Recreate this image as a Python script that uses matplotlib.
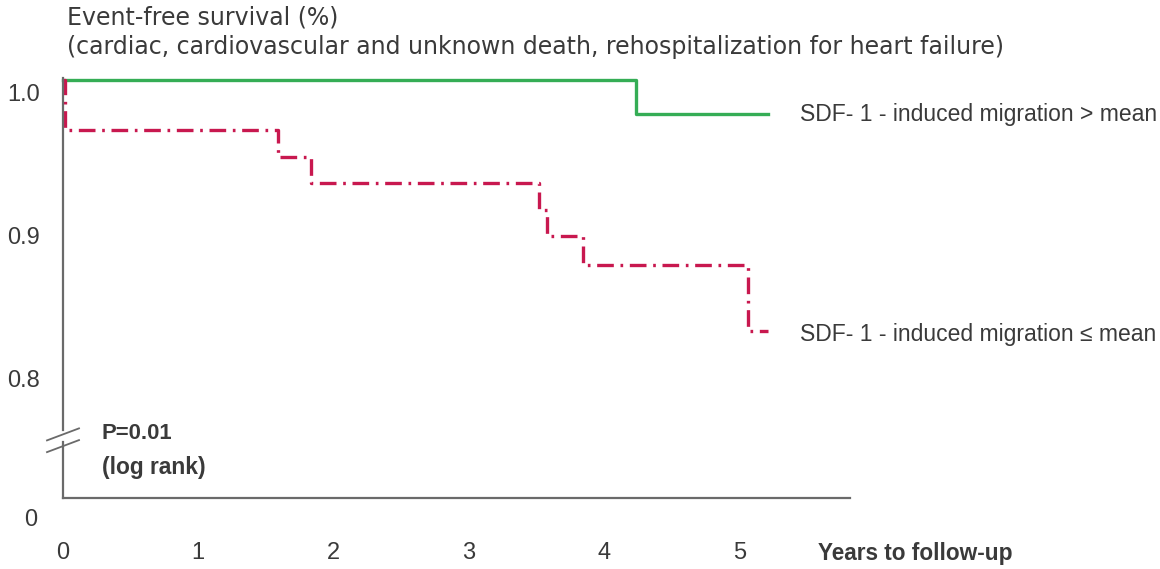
import matplotlib
matplotlib.use('Agg')
import matplotlib.pyplot as plt
from matplotlib import font_manager

names = set(f.name for f in font_manager.fontManager.ttflist)
TITLE_FONT = 'DejaVu Sans Condensed' if 'DejaVu Sans Condensed' in names else 'DejaVu Sans'
NARROW = 'Liberation Sans Narrow' if 'Liberation Sans Narrow' in names else 'Liberation Sans'
plt.rcParams['font.family'] = [NARROW, 'DejaVu Sans']

# Kaplan-Meier steps (years, event-free survival)
high_t = [0, 4.235, 5.21]
high_s = [1.0, 0.976, 0.976]
low_t = [0, 0.015, 1.59, 1.83, 3.52, 3.58, 3.84, 5.06, 5.21]
low_s = [1.0, 0.965, 0.946, 0.928, 0.909, 0.891, 0.871, 0.825, 0.825]

ytick_vals = [1.0, 0.9, 0.8]
ytick_labels = ['1.0', '0.9', '0.8']
xtick_vals = [0, 1, 2, 3, 4, 5]

label_high = 'SDF- 1 - induced migration > mean'
label_low = 'SDF- 1 - induced migration \u2264 mean'

GREEN = '#35ad55'
RED = '#c8184f'
TXT = '#3a3a3a'
AX = '#6a6a6a'

fig = plt.figure(figsize=(11.6, 5.69), dpi=100)
ax = fig.add_axes([63 / 1160, 1 - 498 / 569, (850 - 63) / 1160, (498 - 60) / 569])
ymin, ymax = 0.708, 1.014
ax.set_xlim(0, 5.817)
ax.set_ylim(ymin, ymax)
renderer = fig.canvas.get_renderer()


def fit(t, width_px):
    # scale font so the text is as wide as in the reference
    w = t.get_window_extent(renderer).width
    t.set_fontsize(t.get_fontsize() * width_px / w)
    return t


ax.step(high_t, high_s, where='post', color=GREEN, lw=2.4, clip_on=False)
ax.step(low_t, low_s, where='post', color=RED, lw=2.4,
        linestyle=(0, (5, 2, 0.8, 2)), clip_on=False)

for s in ['top', 'right', 'left']:
    ax.spines[s].set_visible(False)
ax.spines['bottom'].set_color(AX)
ax.spines['bottom'].set_linewidth(1.6)
ax.set_xticks([])
ax.set_yticks([])

# left axis with break marks
yb = 0.8 - (434 - 366) / 1430
ax.plot([0, 0], [ymax - 0.0125, yb + 0.003], color=AX, lw=1.6, clip_on=False)
ax.plot([0, 0], [yb - 0.005, ymin], color=AX, lw=1.6, clip_on=False)
dx = 16 / 135.3
for off in [0.0, -0.0082]:
    ax.plot([-dx, dx], [yb + off - 0.0042, yb + off + 0.0042],
            color=AX, lw=1.3, clip_on=False)

for v, l in zip(ytick_vals, ytick_labels):
    ax.text(-0.17, v - 0.0105, l, ha='right', va='center', fontsize=17,
            color=TXT, clip_on=False)
ax.text(-0.19, ymin - 22 / 1430, '0', ha='right', va='center', fontsize=17,
        color=TXT, clip_on=False)

for v in xtick_vals:
    ax.text(v, ymin - 55 / 1430, str(v), ha='center', va='center',
            fontsize=17, color=TXT, clip_on=False)
t = ax.text((818 - 63) / 135.3, ymin - 55 / 1430, 'Years to follow-up', ha='left',
            va='center', fontsize=17, fontweight='bold', color=TXT, clip_on=False)
fit(t, 195)

t = ax.text((800 - 63) / 135.3, high_s[-1], label_high, ha='left', va='center',
            fontsize=17, color=TXT, clip_on=False)
fit(t, 357)
t = ax.text((800 - 63) / 135.3, low_s[-1] - 0.003, label_low, ha='left',
            va='center', fontsize=17, color=TXT, clip_on=False)
fit(t, 357)

t = ax.text((102 - 63) / 135.3, 0.8 - (433 - 366) / 1430, 'P=0.01', ha='left',
            va='center', fontsize=17, fontweight='bold', color=TXT)
fit(t, 71)
t = ax.text((102 - 63) / 135.3, 0.8 - (467 - 366) / 1430, '(log rank)', ha='left',
            va='center', fontsize=17, fontweight='bold', color=TXT)
fit(t, 104)

fig.text(67 / 1160, 1 - 17 / 569, 'Event-free survival (%)', ha='left',
         va='center', fontsize=17, color=TXT, family=TITLE_FONT)
fig.text(67 / 1160, 1 - 47 / 569,
         '(cardiac, cardiovascular and unknown death, rehospitalization for heart failure)',
         ha='left', va='center', fontsize=17, color=TXT, family=TITLE_FONT)

fig.savefig('out.png', dpi=100)
